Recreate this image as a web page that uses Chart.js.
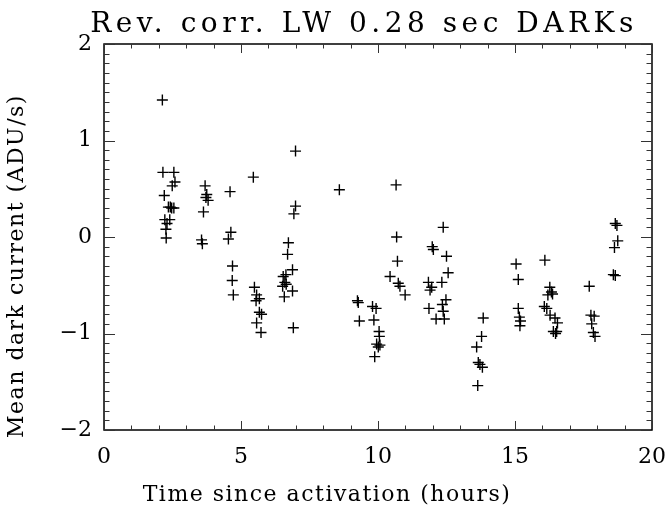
<!DOCTYPE html>
<html>
<head>
<meta charset="utf-8">
<script src="https://cdn.jsdelivr.net/npm/chart.js@4"></script>
<style>
  html, body { margin: 0; padding: 0; background: #fff; }
  #wrap { width: 667px; height: 512px; }
</style>
</head>
<body>
<div id="wrap"><canvas id="grafico"></canvas></div>
<script>
// dados
const timeHours = [
  2.13, 2.15, 2.55, 2.59, 2.49, 2.20, 2.35, 2.42, 2.47, 2.55, 2.22, 2.40, 2.30, 2.26, 2.27,
  3.69, 3.75, 3.72, 3.80, 3.63, 3.56, 3.59,
  4.60, 4.63, 4.54, 4.69, 4.68, 4.72,
  5.45, 5.49, 5.57, 5.67, 5.55, 5.67, 5.75, 5.57, 5.73,
  6.99, 6.99, 6.93, 6.73, 6.70, 6.88, 6.54, 6.64, 6.52, 6.65, 6.60, 6.88, 6.58, 6.91,
  8.59,
  9.25, 9.28, 9.32, 9.80, 9.93, 9.85, 10.04, 10.05, 9.95, 10.07, 10.01, 9.88,
  10.66, 10.68, 10.71, 10.44, 10.74, 10.80, 10.99,
  11.98, 12.02, 12.38, 12.50, 12.56, 12.33, 11.84, 11.96, 11.90, 12.48, 12.35, 12.38, 11.86, 12.12, 12.42,
  13.60, 13.66, 13.72, 13.81, 13.64, 13.78, 13.84,
  15.04, 15.12, 15.12, 15.16, 15.20, 15.18,
  16.09, 16.27, 16.33, 16.20, 16.37, 16.07, 16.16, 16.28, 16.46, 16.55, 16.40, 16.52, 16.48,
  17.71, 17.77, 17.89, 17.80, 17.86, 17.92,
  18.66, 18.72, 18.75, 18.63, 18.59, 18.66
];
const darkCurrent = [
  1.42, 0.67, 0.67, 0.57, 0.53, 0.43, 0.31, 0.31, 0.30, 0.30, 0.18, 0.18, 0.14, 0.08, -0.01,
  0.53, 0.44, 0.41, 0.38, 0.26, -0.03, -0.07,
  0.47, 0.05, -0.02, -0.30, -0.45, -0.60,
  0.62, -0.52, -0.60, -0.64, -0.66, -0.78, -0.80, -0.89, -0.99,
  0.89, 0.32, 0.24, -0.06, -0.18, -0.34, -0.41, -0.39, -0.51, -0.49, -0.47, -0.56, -0.62, -0.94,
  0.49,
  -0.66, -0.68, -0.87, -0.72, -0.74, -0.86, -0.98, -1.03, -1.11, -1.12, -1.14, -1.24,
  0.54, 0.00, -0.25, -0.41, -0.48, -0.51, -0.60,
  -0.10, -0.13, 0.10, -0.20, -0.37, -0.47, -0.47, -0.52, -0.55, -0.65, -0.70, -0.77, -0.74, -0.85, -0.85,
  -1.14, -1.30, -1.32, -1.35, -1.54, -1.03, -0.84,
  -0.28, -0.44, -0.74, -0.83, -0.87, -0.92,
  -0.24, -0.52, -0.57, -0.60, -0.59, -0.72, -0.74, -0.81, -0.84, -0.89, -0.98, -0.98, -1.00,
  -0.51, -0.81, -0.82, -0.90, -0.99, -1.03,
  0.14, 0.12, -0.04, -0.11, -0.39, -0.40
];
const xTicks = [0, 5, 10, 15, 20];
const yTicks = [-2, -1, 0, 1, 2];

const fonte = "'DejaVu Serif', 'Liberation Serif', serif";
const pontos = timeHours.map((t, i) => ({ x: t, y: darkCurrent[i] }));

// caixa e tracinhos para dentro (estilo IDL)
const caixaPlugin = {
  id: 'caixa',
  afterDatasetsDraw(chart) {
    const c = chart.ctx, a = chart.chartArea;
    const sx = chart.scales.x, sy = chart.scales.y;
    c.save();
    c.strokeStyle = '#000';
    c.lineWidth = 1.5;
    c.strokeRect(a.left, a.top, a.right - a.left, a.bottom - a.top);
    c.lineWidth = 1;
    c.strokeStyle = '#333';
    c.beginPath();
    for (let v = 0; v <= 20; v += 1) {
      const px = Math.round(sx.getPixelForValue(v)) + 0.5;
      const len = v % 5 === 0 ? 9 : 4.5;
      c.moveTo(px, a.bottom); c.lineTo(px, a.bottom - len);
      c.moveTo(px, a.top); c.lineTo(px, a.top + len);
    }
    for (let k = -20; k <= 20; k++) {
      const py = Math.round(sy.getPixelForValue(k / 10)) + 0.5;
      const len = k % 10 === 0 ? 11 : 5.5;
      c.moveTo(a.left, py); c.lineTo(a.left + len, py);
      c.moveTo(a.right, py); c.lineTo(a.right - len, py);
    }
    c.stroke();
    c.restore();
  }
};

const ctx = document.getElementById('grafico').getContext('2d');
const grafico = new Chart(ctx, {
  type: 'scatter',
  data: {
    datasets: [{
      data: pontos,
      pointStyle: 'cross',
      pointRadius: 5.5,
      borderColor: '#000',
      backgroundColor: '#000',
      borderWidth: 1.4
    }]
  },
  options: {
    responsive: true,
    maintainAspectRatio: false,
    animation: false,
    layout: { padding: { right: 15, left: 0, top: 0, bottom: 0 } },
    plugins: {
      legend: { display: false },
      tooltip: { enabled: false },
      title: {
        display: true,
        text: 'Rev. corr. LW 0.28 sec DARKs',
        color: '#000',
        font: { family: fonte, size: 28, weight: 'normal' },
        padding: { top: 5, bottom: 5.4 }
      }
    },
    scales: {
      x: {
        type: 'linear',
        min: 0, max: 20,
        afterBuildTicks: s => { s.ticks = xTicks.map(v => ({ value: v })); },
        afterFit: s => { s.height = 82; s.paddingLeft = 0; s.paddingRight = 0; },
        grid: { display: false, drawTicks: false },
        border: { display: false },
        ticks: { color: '#000', padding: 14, font: { family: fonte, size: 22 } },
        title: {
          display: true,
          text: 'Time since activation (hours)',
          color: '#000',
          font: { family: fonte, size: 22 },
          padding: { top: 2 }
        }
      },
      y: {
        type: 'linear',
        min: -2, max: 2,
        afterBuildTicks: s => { s.ticks = yTicks.map(v => ({ value: v })); },
        afterFit: s => { s.width = 104; s.paddingTop = 0; s.paddingBottom = 0; },
        grid: { display: false, drawTicks: false },
        border: { display: false },
        ticks: {
          color: '#000', padding: 12, font: { family: fonte, size: 22 },
          callback: v => (v < 0 ? '\u2212' + Math.abs(v) : String(v))
        },
        title: {
          display: true,
          text: 'Mean dark current (ADU/s)',
          color: '#000',
          font: { family: fonte, size: 22 },
          padding: { bottom: 0 }
        }
      }
    }
  },
  plugins: [caixaPlugin]
});

// espacamento entre letras e deslocamento dos titulos (fonte IDL e mais larga)
function espacar(obj, metodo, esp, dx, dy) {
  const orig = obj[metodo];
  obj[metodo] = function () {
    const c = this.ctx || grafico.ctx;
    c.save();
    c.letterSpacing = esp;
    c.translate(dx, dy);
    orig.apply(this, arguments);
    c.restore();
  };
}
espacar(grafico.titleBlock, 'draw', '4.5px', 38, 3);
espacar(grafico.scales.x, 'drawTitle', '1.5px', -51, 0);
espacar(grafico.scales.y, 'drawTitle', '1.5px', 0, 29);
grafico.draw();
</script>
</body>
</html>
